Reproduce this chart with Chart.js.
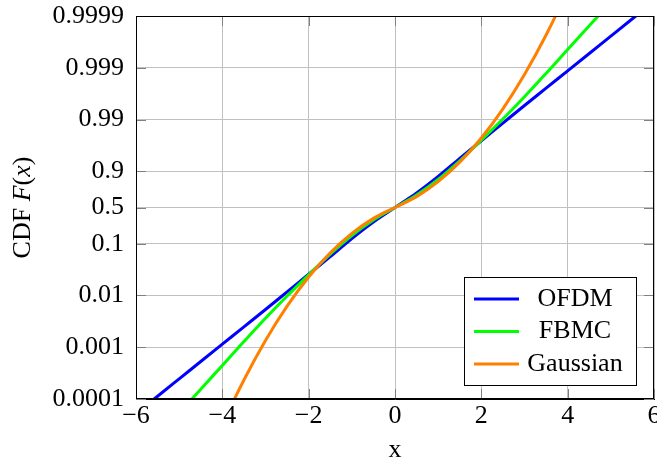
<!DOCTYPE html>
<html>
<head>
<meta charset="utf-8">
<script src="https://cdn.jsdelivr.net/npm/chart.js@4/dist/chart.umd.min.js"></script>
<style>
  html, body { margin: 0; padding: 0; background: #ffffff; }
  #wrap { width: 657px; height: 460px; }
</style>
</head>
<body>
<div id="wrap"><canvas id="c" width="657" height="460"></canvas></div>
<script>
// ---- data ----
const xValues = [-6, -5.5, -5, -4.5, -4, -3.5, -3, -2.5, -2, -1.5, -1, -0.5, 0,
                 0.5, 1, 1.5, 2, 2.5, 3, 3.5, 4, 4.5, 5, 5.5, 6];

const ofdmCdf = [0.0000524, 0.0001132, 0.0002449, 0.00053, 0.001146, 0.002477, 0.005358, 0.01172, 0.02565, 0.0561, 0.1256, 0.2624, 0.5,
                 0.7376, 0.8744, 0.9439, 0.97435, 0.98828, 0.994642, 0.997523, 0.998854, 0.99947, 0.9997551, 0.9998868, 0.9999476];

const fbmcCdf = [0.00000644, 0.00001857, 0.0000536, 0.0001545, 0.0004456, 0.001285, 0.003622, 0.009749, 0.02506, 0.06295, 0.1442, 0.2877, 0.5,
                 0.7123, 0.8558, 0.93705, 0.97494, 0.990251, 0.996378, 0.998715, 0.9995544, 0.9998455, 0.9999464, 0.99998143, 0.99999356];

const gaussCdf = [null, null, null, 0.0000034, 0.0000317, 0.000233, 0.00135, 0.00621, 0.02275, 0.0668, 0.1587, 0.3085, 0.5,
                  0.6915, 0.8413, 0.9332, 0.97725, 0.99379, 0.99865, 0.999767, 0.9999683, 0.9999966, null, null, null];

const seriesNames = ['OFDM', 'FBMC', 'Gaussian'];
const seriesColors = ['#0000ff', '#00ff00', '#ff8000'];

const yTickProbs = [0.0001, 0.001, 0.01, 0.1, 0.5, 0.9, 0.99, 0.999, 0.9999];
const yTickLabels = ['0.0001', '0.001', '0.01', '0.1', '0.5', '0.9', '0.99', '0.999', '0.9999'];
const xTickValues = [-6, -4, -2, 0, 2, 4, 6];
const xTickLabels = ['\u22126', '\u22124', '\u22122', '0', '2', '4', '6'];

const xTitle = 'x';
const yTitleParts = [['CDF ', false], ['F', true], ['(', false], ['x', true], [')', false]];

// ---- probability axis transform (symmetric log-tail scale) ----
function probToAxis(p) {
  return p <= 0.5 ? Math.log10(2 * p) : -Math.log10(2 * (1 - p));
}

const FONT = '"Liberation Serif", "Times New Roman", serif';
const FS = 26;

function buildData(cdf) {
  return xValues.map((x, i) => ({ x: x, y: cdf[i] == null ? null : probToAxis(cdf[i]) }));
}

const allCdf = [ofdmCdf, fbmcCdf, gaussCdf];
const datasets = allCdf.map((cdf, i) => ({
  label: seriesNames[i],
  data: buildData(cdf),
  borderColor: seriesColors[i],
  backgroundColor: seriesColors[i],
  borderWidth: 3,
  pointRadius: 0,
  fill: false,
  spanGaps: false,
  cubicInterpolationMode: 'monotone',
  order: 2 - i
}));

const framePlugin = {
  id: 'frameTicks',
  afterDatasetsDraw(chart) {
    const { ctx, chartArea: a, scales } = chart;
    ctx.save();
    ctx.strokeStyle = '#808080';
    ctx.lineWidth = 1;
    const L = 10;
    ctx.beginPath();
    xTickValues.forEach(v => {
      const px = Math.round(scales.x.getPixelForValue(v)) + 0.5;
      ctx.moveTo(px, a.bottom); ctx.lineTo(px, a.bottom - L);
      ctx.moveTo(px, a.top); ctx.lineTo(px, a.top + L);
    });
    yTickProbs.forEach(p => {
      const py = Math.round(scales.y.getPixelForValue(probToAxis(p))) + 0.5;
      ctx.moveTo(a.left, py); ctx.lineTo(a.left + L, py);
      ctx.moveTo(a.right, py); ctx.lineTo(a.right - L, py);
    });
    ctx.stroke();
    ctx.strokeStyle = '#000000';
    ctx.lineWidth = 1;
    ctx.strokeRect(Math.round(a.left) + 0.5, Math.round(a.top) + 0.5,
                   Math.round(a.right - a.left) - 1, Math.round(a.bottom - a.top) - 1);
    ctx.restore();
  },
  afterDraw(chart) {
    const { ctx, chartArea: a } = chart;
    ctx.save();
    // legend box
    const bx = a.right - 190, by = a.bottom - 122, bw = 172, bh = 108;
    ctx.fillStyle = '#ffffff';
    ctx.fillRect(bx, by, bw, bh);
    ctx.strokeStyle = '#000000';
    ctx.lineWidth = 1;
    ctx.strokeRect(Math.round(bx) + 0.5, Math.round(by) + 0.5, bw, bh);
    ctx.font = FS + 'px ' + FONT;
    ctx.textBaseline = 'middle';
    ctx.textAlign = 'center';
    chart.data.datasets.forEach((ds, i) => {
      const cy = by + 22 + i * 32.5;
      ctx.strokeStyle = ds.borderColor;
      ctx.lineWidth = 3;
      ctx.beginPath();
      ctx.moveTo(bx + 10, cy); ctx.lineTo(bx + 55, cy);
      ctx.stroke();
      ctx.fillStyle = '#000000';
      ctx.fillText(ds.label, bx + 111, cy);
    });
    // x title
    ctx.textAlign = 'center';
    ctx.textBaseline = 'alphabetic';
    ctx.fillText(xTitle, (a.left + a.right) / 2, 457);
    // y title with italic math parts
    const cy = (a.top + a.bottom) / 2;
    const widths = yTitleParts.map(([t, it]) => {
      ctx.font = (it ? 'italic ' : '') + FS + 'px ' + FONT;
      return ctx.measureText(t).width;
    });
    const total = widths.reduce((s, w) => s + w, 0);
    ctx.translate(30, cy);
    ctx.rotate(-Math.PI / 2);
    ctx.textAlign = 'left';
    let x0 = -total / 2;
    yTitleParts.forEach(([t, it], i) => {
      ctx.font = (it ? 'italic ' : '') + FS + 'px ' + FONT;
      ctx.fillText(t, x0, 0);
      x0 += widths[i];
    });
    ctx.restore();
  }
};

new Chart(document.getElementById('c'), {
  type: 'line',
  data: { datasets: datasets },
  options: {
    responsive: false,
    animation: false,
    layout: { padding: { top: 16, right: 3, bottom: 0, left: 0 } },
    plugins: { legend: { display: false }, tooltip: { enabled: false } },
    scales: {
      x: {
        type: 'linear',
        min: -6, max: 6,
        afterBuildTicks(scale) { scale.ticks = xTickValues.map(v => ({ value: v })); },
        afterFit(scale) { scale.height = 61; scale.paddingLeft = 0; scale.paddingRight = 0; },
        ticks: {
          autoSkip: false, maxRotation: 0, padding: 2, color: '#000000',
          font: { family: FONT, size: FS },
          callback: (v, i) => xTickLabels[i]
        },
        grid: { color: '#c0c0c0', lineWidth: 1, drawTicks: false },
        border: { display: true, color: '#000000', width: 1 },
        title: { display: false }
      },
      y: {
        type: 'linear',
        min: probToAxis(0.0001), max: probToAxis(0.9999),
        afterBuildTicks(scale) { scale.ticks = yTickProbs.map(p => ({ value: probToAxis(p) })); },
        afterFit(scale) { scale.width = 136; scale.paddingTop = 0; scale.paddingBottom = 0; },
        ticks: {
          autoSkip: false, padding: 12, color: '#000000',
          font: { family: FONT, size: FS },
          callback: (v, i) => yTickLabels[i]
        },
        grid: { color: '#c0c0c0', lineWidth: 1, drawTicks: false },
        border: { display: true, color: '#000000', width: 1 },
        title: { display: false }
      }
    }
  },
  plugins: [framePlugin]
});
</script>
</body>
</html>
